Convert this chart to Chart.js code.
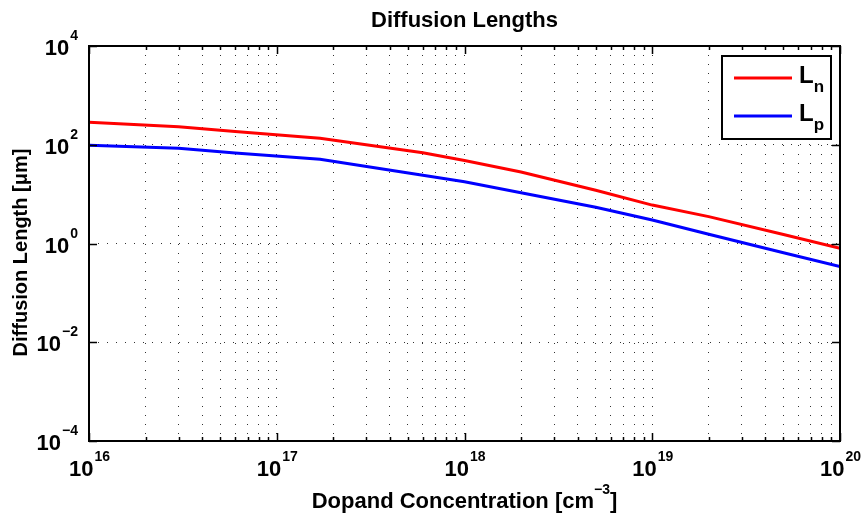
<!DOCTYPE html>
<html>
<head>
<meta charset="utf-8">
<script src="https://cdn.jsdelivr.net/npm/chart.js@4"></script>
<style>
  html, body { margin: 0; padding: 0; background: #fff; }
</style>
</head>
<body>
<canvas id="chart" width="861" height="516"></canvas>
<script>
// dopand concentration [cm^-3] and diffusion lengths [um]
const dopand  = [1e16, 3e16, 6e16, 1.7e17, 6e17, 1e18, 2e18, 5e18, 1e19, 2e19, 5e19, 1e20];
const lengthN = [285, 232, 186, 135, 69, 48, 28, 12, 6.0, 3.5, 1.52, 0.80];
const lengthP = [98, 85, 68, 51, 24, 17.8, 10.7, 5.4, 3.0, 1.54, 0.65, 0.34];

const xDecades = [16, 17, 18, 19, 20];
const yDecades = [-4, -2, 0, 2, 4];
const seriesNames = ['n', 'p'];

const FONT = '"Liberation Sans", Arial, sans-serif';

// x ticks: 1..9 per decade, y ticks: the listed decades only
function buildXTicks() {
  const ticks = [];
  xDecades.forEach((d, i) => {
    if (i === xDecades.length - 1) {
      ticks.push({ value: Math.pow(10, d), major: true, exp: d });
      return;
    }
    for (let m = 1; m <= 9; m++) {
      ticks.push({ value: m * Math.pow(10, d), major: m === 1, exp: d });
    }
  });
  return ticks;
}
function buildYTicks() {
  return yDecades.map(d => ({ value: Math.pow(10, d), major: true, exp: d }));
}

function toPoints(ys) {
  return dopand.map((x, i) => ({ x: x, y: ys[i] }));
}

function drawPow(ctx, exp, x, y, align) {
  const base = '10';
  const sup = exp < 0 ? '\u2212' + Math.abs(exp) : String(exp);
  ctx.font = 'bold 22px ' + FONT;
  const wb = ctx.measureText(base).width;
  ctx.font = 'bold 14px ' + FONT;
  const ws = ctx.measureText(sup).width;
  let left = align === 'center' ? x - (wb + ws) / 2 : x - (wb + ws);
  ctx.textAlign = 'left';
  ctx.textBaseline = 'alphabetic';
  ctx.font = 'bold 22px ' + FONT;
  ctx.fillText(base, left, y);
  ctx.font = 'bold 14px ' + FONT;
  ctx.fillText(sup, left + wb + 1, y - 15);
}

const framePlugin = {
  id: 'frame',
  afterDraw(chart) {
    const { ctx, chartArea: a, scales: { x, y } } = chart;
    ctx.save();
    ctx.fillStyle = '#000';
    ctx.strokeStyle = '#000';

    // inward ticks on all four sides
    ctx.lineWidth = 1.5;
    ctx.beginPath();
    x.ticks.forEach(t => {
      const px = Math.round(x.getPixelForValue(t.value)) + 0.5;
      const len = t.major ? 8 : 4;
      ctx.moveTo(px, a.bottom); ctx.lineTo(px, a.bottom - len);
      ctx.moveTo(px, a.top); ctx.lineTo(px, a.top + len);
    });
    y.ticks.forEach(t => {
      const py = Math.round(y.getPixelForValue(t.value)) + 0.5;
      ctx.moveTo(a.left, py); ctx.lineTo(a.left + 8, py);
      ctx.moveTo(a.right, py); ctx.lineTo(a.right - 8, py);
    });
    ctx.stroke();

    // box
    ctx.lineWidth = 2;
    ctx.strokeRect(a.left, a.top, a.right - a.left, a.bottom - a.top);

    // tick labels
    x.ticks.filter(t => t.major).forEach(t => {
      drawPow(ctx, t.exp, x.getPixelForValue(t.value), a.bottom + 35, 'center');
    });
    y.ticks.forEach(t => {
      drawPow(ctx, t.exp, a.left - 12, y.getPixelForValue(t.value) + 9, 'right');
    });

    // title
    const cx = (a.left + a.right) / 2;
    ctx.textAlign = 'center';
    ctx.font = 'bold 22px ' + FONT;
    ctx.fillText('Diffusion Lengths', cx, 27);

    // x axis title with superscript
    ctx.font = 'bold 22px ' + FONT;
    const p1 = 'Dopand Concentration [cm', p3 = ']';
    const w1 = ctx.measureText(p1).width, w3 = ctx.measureText(p3).width;
    ctx.font = 'bold 14px ' + FONT;
    const p2 = '\u22123', w2 = ctx.measureText(p2).width;
    let lx = cx - (w1 + w2 + w3) / 2;
    ctx.textAlign = 'left';
    ctx.font = 'bold 22px ' + FONT;
    ctx.fillText(p1, lx, 508);
    ctx.font = 'bold 14px ' + FONT;
    ctx.fillText(p2, lx + w1, 494);
    ctx.font = 'bold 22px ' + FONT;
    ctx.fillText(p3, lx + w1 + w2, 508);

    // y axis title
    ctx.save();
    ctx.translate(27, (a.top + a.bottom) / 2 + 9);
    ctx.rotate(-Math.PI / 2);
    ctx.textAlign = 'center';
    ctx.font = 'bold 20px ' + FONT;
    ctx.fillText('Diffusion Length [\u03bcm]', 0, 0);
    ctx.restore();

    // legend
    const bw = 109, bh = 83;
    const bx = a.right - 9 - bw, by = a.top + 10;
    ctx.fillStyle = '#fff';
    ctx.fillRect(bx, by, bw, bh);
    ctx.strokeStyle = '#000';
    ctx.lineWidth = 2;
    ctx.strokeRect(bx, by, bw, bh);
    chart.data.datasets.forEach((ds, i) => {
      const ly = by + 22 + i * 38;
      ctx.strokeStyle = ds.borderColor;
      ctx.lineWidth = 3;
      ctx.beginPath();
      ctx.moveTo(bx + 12, ly); ctx.lineTo(bx + 70, ly);
      ctx.stroke();
      ctx.fillStyle = '#000';
      ctx.textAlign = 'left';
      ctx.font = 'bold 24px ' + FONT;
      ctx.fillText('L', bx + 77, ly + 5);
      const wl = ctx.measureText('L').width;
      ctx.font = 'bold 17px ' + FONT;
      ctx.fillText(seriesNames[i], bx + 77 + wl, ly + 14);
    });

    ctx.restore();
  }
};

new Chart(document.getElementById('chart'), {
  type: 'line',
  data: {
    datasets: [
      { label: 'Ln', data: toPoints(lengthN), borderColor: '#ff0000', borderWidth: 3, pointRadius: 0, tension: 0 },
      { label: 'Lp', data: toPoints(lengthP), borderColor: '#0000ff', borderWidth: 3, pointRadius: 0, tension: 0 }
    ]
  },
  options: {
    responsive: false,
    devicePixelRatio: 1,
    animation: false,
    layout: { padding: { top: 46, right: 21, left: 0, bottom: 0 } },
    plugins: { legend: { display: false }, title: { display: false }, tooltip: { enabled: false } },
    scales: {
      x: {
        type: 'logarithmic',
        min: 1e16,
        max: 1e20,
        afterBuildTicks: s => { s.ticks = buildXTicks(); },
        afterFit: s => { s.height = 75; },
        ticks: { display: false },
        border: { display: false, dash: [1, 8] },
        grid: { color: 'rgba(0,0,0,0.8)', lineWidth: 1, drawTicks: false }
      },
      y: {
        type: 'logarithmic',
        min: 1e-4,
        max: 1e4,
        afterBuildTicks: s => { s.ticks = buildYTicks(); },
        afterFit: s => { s.width = 89; },
        ticks: { display: false },
        border: { display: false, dash: [1, 8] },
        grid: { color: 'rgba(0,0,0,0.8)', lineWidth: 1, drawTicks: false }
      }
    }
  },
  plugins: [framePlugin]
});
</script>
</body>
</html>
